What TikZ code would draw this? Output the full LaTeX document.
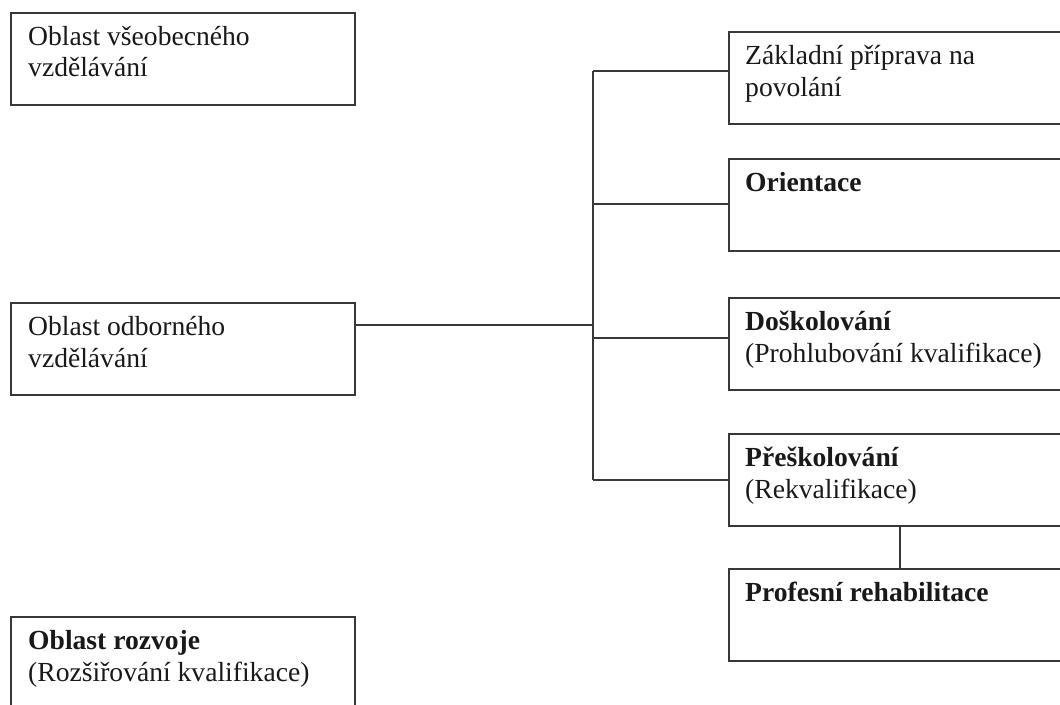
\documentclass[tikz,border=0pt]{standalone}
\usepackage{fontspec}
\setmainfont{Liberation Serif}
\usetikzlibrary{calc}
\begin{document}
\begin{tikzpicture}[x=1pt,y=-1pt,
  frame/.style={draw=black!78, line width=1.6pt, rectangle, inner sep=0pt,
    minimum height=92pt, anchor=north west},
  leftbox/.style={frame, minimum width=344pt},
  rightbox/.style={frame, minimum width=347pt},
  label/.style={anchor=base west, inner sep=0pt, text=black!90,
    font=\fontsize{27.6}{32}\selectfont},
  wire/.style={draw=black!78, line width=1.6pt}]
\useasboundingbox (0,0) rectangle (1060,704);
\clip (0,0) rectangle (1060,704);

% left column
\node[leftbox] (gen) at (10,12) {};
\node[leftbox] (voc) at (10,302) {};
\node[leftbox] (dev) at (10,616) {};

% right column
\node[rightbox] (basic) at (728,31) {};
\node[rightbox] (orient) at (728,158) {};
\node[rightbox] (further) at (728,297) {};
\node[rightbox] (retrain) at (728,433) {};
\node[rightbox] (rehab) at (728,568) {};

% texts
\node[label] (tgen) at ($(gen.north west)+(18,33)$)
  {\parbox[t]{320pt}{Oblast všeobecného\\vzdělávání}};
\node[label] (tvoc) at ($(voc.north west)+(18,33)$)
  {\parbox[t]{320pt}{Oblast odborného\\vzdělávání}};
\node[label] (tdev) at ($(dev.north west)+(18,33)$)
  {\parbox[t]{330pt}{\textbf{Oblast rozvoje}\\(Rozšiřování kvalifikace)}};
\node[label] (tbasic) at ($(basic.north west)+(17,33)$)
  {\parbox[t]{320pt}{Základní příprava na\\povolání}};
\node[label] (torient) at ($(orient.north west)+(17,33)$)
  {\textbf{Orientace}};
\node[label] (tfurther) at ($(further.north west)+(17,33)$)
  {\parbox[t]{330pt}{\textbf{Doškolování}\\(Prohlubování kvalifikace)}};
\node[label] (tretrain) at ($(retrain.north west)+(17,33)$)
  {\parbox[t]{320pt}{\textbf{Přeškolování}\\(Rekvalifikace)}};
\node[label] (trehab) at ($(rehab.north west)+(17,33)$)
  {\textbf{Profesní rehabilitace}};

% trunk and branches
\coordinate (ttop) at (593,71);
\coordinate (tbot) at (593,480);
\coordinate (jvoc) at (593,325);
\coordinate (jorient) at (593,204);
\coordinate (jfurther) at (593,338);
\draw[wire] (ttop) -- (tbot);
\draw[wire] (voc.east |- jvoc) -- (jvoc);
\draw[wire] (ttop) -- (basic.west |- ttop);
\draw[wire] (jorient) -- (orient.west |- jorient);
\draw[wire] (jfurther) -- (further.west |- jfurther);
\draw[wire] (tbot) -- (retrain.west |- tbot);
\coordinate (jrehab) at (900,0);
\draw[wire] (retrain.south -| jrehab) -- (rehab.north -| jrehab);
\end{tikzpicture}
\end{document}
